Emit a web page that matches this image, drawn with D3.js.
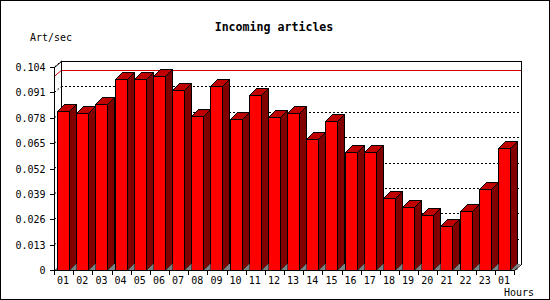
<!DOCTYPE html>
<html><head><meta charset="utf-8">
<script src="https://cdn.jsdelivr.net/npm/d3@7"></script>
<style>body{margin:0;background:#fff}svg{display:block}text{font-family:"DejaVu Sans Mono",monospace}</style>
</head><body>
<svg id="c" width="550" height="300"></svg>
<script>
const categories = ["01","02","03","04","05","06","07","08","09","10","11","12","13","14","15","16","17","18","19","20","21","22","23","01"];
const values = [0.0817,0.0802,0.0853,0.0981,0.0976,0.0995,0.0921,0.0787,0.0945,0.0776,0.0899,0.0782,0.0802,0.0669,0.0762,0.0602,0.0602,0.0367,0.0321,0.0280,0.0224,0.0300,0.0413,0.0626];
const yTicks = [0,0.013,0.026,0.039,0.052,0.065,0.078,0.091,0.104];
const yTickLabels = ["0","0.013","0.026","0.039","0.052","0.065","0.078","0.091","0.104"];
const title = "Incoming articles";
const yTitle = "Art/sec";
const xTitle = "Hours";

const svg = d3.select("#c");
const L = 54, R = 514, T = 67, B = 270;
const wdx = 7, wdy = -6;   // wall depth
const bdx = 7, bdy = -7;   // bar depth
const x = d3.scaleBand().domain(d3.range(categories.length)).range([L, R]).padding(0);
const y = d3.scaleLinear().domain([0, 0.104]).range([B, T]);

// outer border
svg.append("rect").attr("x",0.5).attr("y",0.5).attr("width",549).attr("height",299)
  .attr("fill","#fff").attr("stroke","#000");

const g = svg.append("g").attr("shape-rendering","crispEdges");

// back wall
g.append("rect").attr("x",L+wdx).attr("y",T+wdy).attr("width",R-L).attr("height",B-T)
  .attr("fill","#fff");

// gridlines on back wall and left wall
yTicks.slice(1).forEach(v=>{
  g.append("line").attr("x1",L+wdx).attr("x2",R+wdx).attr("y1",y(v)+wdy+0.5).attr("y2",y(v)+wdy+0.5)
    .attr("stroke","#000").attr("stroke-dasharray","2,2");
  g.append("line").attr("x1",L+0.5).attr("y1",y(v)).attr("x2",L+wdx+0.5).attr("y2",y(v)+wdy)
    .attr("stroke","#000").attr("stroke-dasharray","2,2").attr("shape-rendering","auto");
});

// max line
const mx = d3.max(values);
g.append("line").attr("x1",L+wdx).attr("x2",R+wdx).attr("y1",y(mx)+wdy+0.5).attr("y2",y(mx)+wdy+0.5)
  .attr("stroke","#d00000");
g.append("line").attr("x1",L+0.5).attr("y1",y(mx)+0.5).attr("x2",L+wdx+0.5).attr("y2",y(mx)+wdy+0.5)
  .attr("stroke","#d00000").attr("shape-rendering","auto");

// floor
g.append("polygon").attr("points",[[L,B],[R,B],[R+wdx,B+wdy],[L+wdx,B+wdy]].map(p=>p.join(",")).join(" "))
  .attr("fill","#808080");

// wall frame
const frame = [
  [[L+wdx+0.5,T+wdy+0.5],[L+wdx+0.5,B+wdy]],
  [[L+wdx+0.5,T+wdy+0.5],[R+wdx+0.5,T+wdy+0.5]],
  [[R+wdx+0.5,T+wdy+0.5],[R+wdx+0.5,B+wdy+0.5]]
];
frame.forEach(s=>g.append("line").attr("x1",s[0][0]).attr("y1",s[0][1]).attr("x2",s[1][0]).attr("y2",s[1][1]).attr("stroke","#000"));

// bars
const bw = 12;
const bars = g.append("g").attr("stroke","#000").attr("stroke-width",1).attr("stroke-linejoin","miter");
values.forEach((v,i)=>{
  const x0 = Math.round(x(i)) + 3.5, x1 = x0 + bw, yt = Math.round(y(v)) + 0.5, yb = B + 0.5;
  const pts = a=>a.map(p=>p.join(",")).join(" ");
  bars.append("polygon").attr("points",pts([[x1,yb],[x1+bdx,yb+bdy],[x1+bdx,yt+bdy],[x1,yt]])).attr("fill","#800000");
  bars.append("polygon").attr("points",pts([[x0,yt],[x1,yt],[x1+bdx,yt+bdy],[x0+bdx,yt+bdy]])).attr("fill","#c00000");
  bars.append("rect").attr("x",x0).attr("y",yt).attr("width",bw).attr("height",yb-yt).attr("fill","#ff0000");
});
// floor triangles at bar bottoms re-show (floor visible below side faces)
values.forEach((v,i)=>{
  const x1 = Math.round(x(i)) + 3.5 + bw;
  g.append("polygon").attr("points",[[x1+0.5,B],[x1+bdx,B+bdy+0.5],[x1+bdx,B]].map(p=>p.join(",")).join(" "))
    .attr("fill","#808080").attr("shape-rendering","auto");
});

// front axes
g.append("line").attr("x1",L+0.5).attr("y1",T).attr("x2",L+0.5).attr("y2",B+0.5).attr("stroke","#000");
g.append("line").attr("x1",L+0.5).attr("y1",T+0.5).attr("x2",L+wdx+0.5).attr("y2",T+wdy+0.5).attr("stroke","#000").attr("shape-rendering","auto");
g.append("line").attr("x1",L).attr("y1",B+0.5).attr("x2",R+0.5).attr("y2",B+0.5).attr("stroke","#000");
g.append("line").attr("x1",R+0.5).attr("y1",B+0.5).attr("x2",R+wdx+0.5).attr("y2",B+wdy+0.5).attr("stroke","#000").attr("shape-rendering","auto");

// y axis ticks & labels
const yAxis = d3.axisLeft(y).tickValues(yTicks).tickSize(5).tickPadding(4).tickFormat((d,i)=>yTickLabels[i]);
const ya = svg.append("g").attr("transform",`translate(${L+0.5},0)`).call(yAxis);
ya.select(".domain").remove();
ya.selectAll("line").attr("stroke","#000").attr("shape-rendering","crispEdges");
ya.selectAll("text").attr("font-family","DejaVu Sans Mono").attr("font-size","10px").attr("fill","#000").attr("dy","0.35em");

// x axis ticks & labels
const xa = svg.append("g").attr("transform",`translate(0,${B+0.5})`);
d3.range(categories.length+1).forEach(i=>{
  const xx = Math.round(L + i*x.step()) + 0.5;
  xa.append("line").attr("x1",xx).attr("x2",xx).attr("y1",0).attr("y2",4).attr("stroke","#000").attr("shape-rendering","crispEdges");
});
xa.selectAll("text.lbl").data(categories).enter().append("text").attr("class","lbl")
  .attr("x",(d,i)=>x(i)+x.bandwidth()/2-0.5).attr("y",13.5).attr("text-anchor","middle")
  .attr("font-size","10px").attr("fill","#000").text(d=>d);

// titles
svg.append("text").attr("x",274).attr("y",31).attr("text-anchor","middle").attr("font-weight","bold")
  .attr("font-size","11.6px").attr("fill","#000").text(title);
svg.append("text").attr("x",30).attr("y",40.5).attr("font-size","10px").attr("fill","#000").text(yTitle);
svg.append("text").attr("x",534).attr("y",296).attr("text-anchor","end").attr("font-size","10px").attr("fill","#000").text(xTitle);
</script>
</body></html>
